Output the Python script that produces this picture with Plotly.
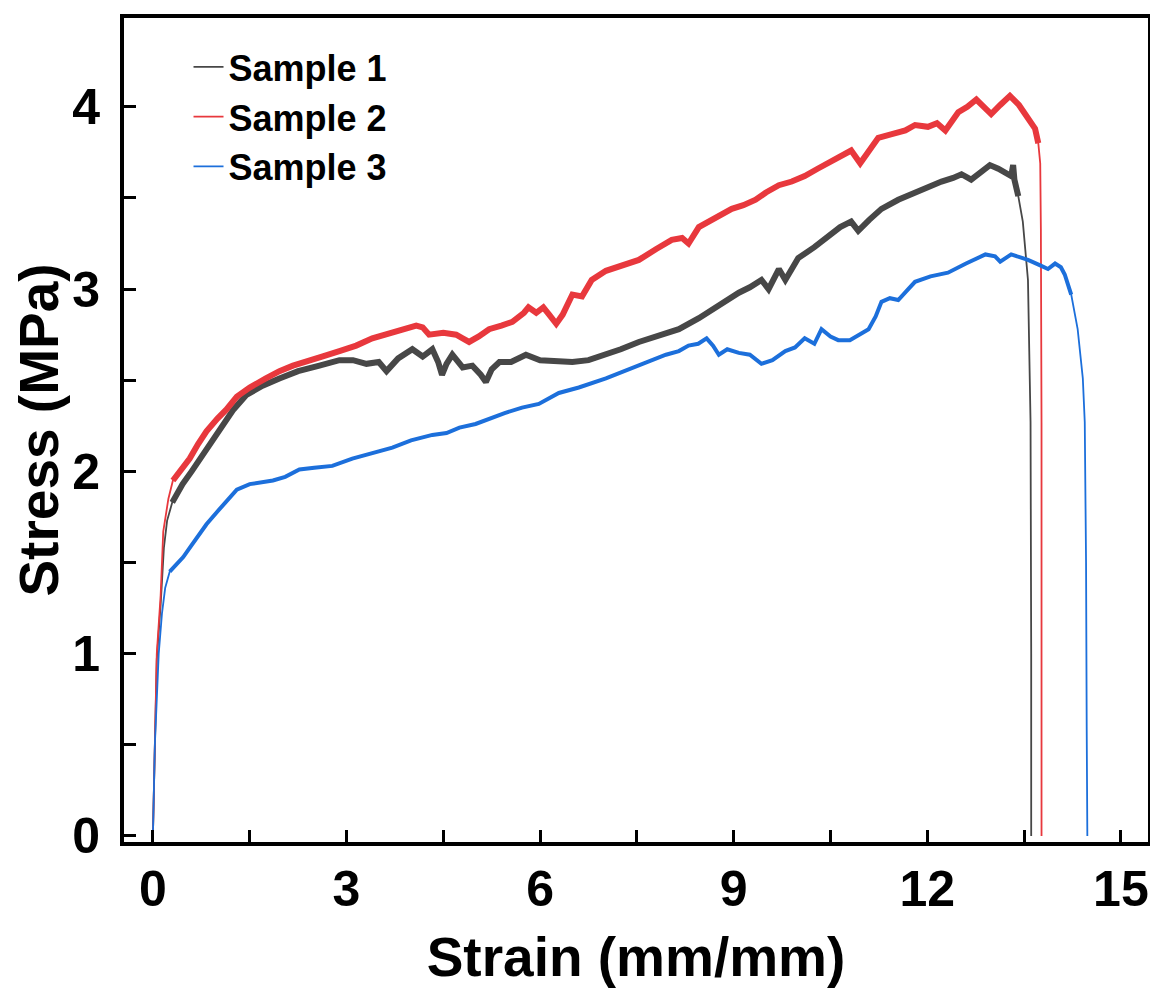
import numpy as np
import plotly.graph_objects as go

# Sample 1 (gray)
strain_1 = [0, 0.03, 0.06, 0.12, 0.17, 0.22, 0.30, 0.46, 0.6, 0.73, 0.88, 1.04, 1.25, 1.45,
            1.7, 1.96, 2.25, 2.58, 2.89, 3.1, 3.31, 3.5, 3.62, 3.8, 4.02, 4.18, 4.33, 4.42,
            4.48, 4.55, 4.64, 4.8, 4.95, 5.08, 5.16, 5.25, 5.37, 5.55, 5.78, 6.0, 6.29, 6.5,
            6.75, 7.02, 7.25, 7.53, 7.8, 8.15, 8.46, 8.75, 9.08, 9.25, 9.43, 9.54, 9.70, 9.80,
            10.0, 10.25, 10.47, 10.65, 10.82, 10.93, 11.1, 11.29, 11.55, 11.81, 12.02, 12.22,
            12.4, 12.53, 12.68, 12.85, 12.97, 13.1, 13.2, 13.3, 13.33, 13.35, 13.41, 13.48,
            13.56, 13.6, 13.61, 13.61]
stress_1 = [0, 0.5, 0.97, 1.27, 1.58, 1.73, 1.83, 1.93, 2.0, 2.07, 2.15, 2.23, 2.34, 2.42,
            2.47, 2.51, 2.55, 2.58, 2.61, 2.61, 2.59, 2.60, 2.55, 2.62, 2.67, 2.63, 2.67, 2.60,
            2.53, 2.59, 2.64, 2.57, 2.58, 2.53, 2.49, 2.56, 2.60, 2.60, 2.64, 2.61, 2.60, 2.60,
            2.61, 2.64, 2.67, 2.71, 2.74, 2.78, 2.84, 2.91, 2.98, 3.01, 3.05, 3.00, 3.11, 3.05,
            3.17, 3.23, 3.29, 3.34, 3.37, 3.32, 3.38, 3.44, 3.49, 3.53, 3.56, 3.59,
            3.61, 3.63, 3.60, 3.65, 3.68, 3.66, 3.64, 3.62, 3.68, 3.60, 3.51, 3.37,
            3.05, 2.27, 1.0, 0]

# Sample 2 (red)
strain_2 = [0, 0.03, 0.06, 0.12, 0.16, 0.24, 0.31, 0.43, 0.57, 0.7, 0.83, 1.0, 1.14, 1.3,
            1.5, 1.75, 1.96, 2.17, 2.38, 2.62, 2.89, 3.15, 3.4, 3.7, 3.9, 4.08, 4.18, 4.28,
            4.5, 4.70, 4.8, 4.9, 5.05, 5.21, 5.4, 5.57, 5.75, 5.82, 5.94, 6.05, 6.14, 6.25,
            6.35, 6.5, 6.65, 6.8, 7.02, 7.3, 7.53, 7.8, 8.04, 8.2, 8.30, 8.46, 8.7, 8.97,
            9.15, 9.34, 9.5, 9.70, 9.9, 10.1, 10.3, 10.47, 10.65, 10.82, 10.96, 11.1, 11.24,
            11.45, 11.66, 11.81, 12.01, 12.15, 12.28, 12.48, 12.62, 12.76, 12.88, 12.99,
            13.13, 13.28, 13.42, 13.56, 13.67, 13.72, 13.75, 13.76, 13.77, 13.77, 13.77]
stress_2 = [0, 0.5, 1.0, 1.32, 1.67, 1.85, 1.95, 2.01, 2.07, 2.15, 2.22, 2.29, 2.34, 2.41,
            2.46, 2.51, 2.55, 2.58, 2.60, 2.63, 2.66, 2.69, 2.73, 2.76, 2.78, 2.80, 2.79, 2.75,
            2.76, 2.75, 2.73, 2.71, 2.74, 2.78, 2.80, 2.82, 2.87, 2.90, 2.87, 2.90, 2.86, 2.81,
            2.86, 2.97, 2.96, 3.05, 3.10, 3.13, 3.16, 3.22, 3.27, 3.28, 3.25, 3.34, 3.39, 3.44,
            3.46, 3.49, 3.53, 3.57, 3.59, 3.62, 3.66, 3.69, 3.73, 3.76, 3.69, 3.76, 3.83,
            3.85, 3.87, 3.90, 3.89, 3.91, 3.87, 3.97, 4.00, 4.04, 4.00, 3.96,
            4.01, 4.06, 4.01, 3.94, 3.88, 3.80, 3.69, 3.33, 2.27, 1.0, 0]

# Sample 3 (blue)
strain_3 = [0, 0.03, 0.09, 0.14, 0.19, 0.26, 0.37, 0.47, 0.57, 0.7, 0.83, 1.0, 1.14, 1.3,
            1.5, 1.7, 1.86, 2.05, 2.27, 2.5, 2.78, 3.09, 3.4, 3.71, 4.0, 4.33, 4.55, 4.75,
            5.0, 5.21, 5.45, 5.72, 5.98, 6.29, 6.6, 7.02, 7.3, 7.53, 7.75, 7.95, 8.15, 8.30,
            8.45, 8.58, 8.68, 8.77, 8.9, 9.08, 9.25, 9.43, 9.6, 9.80, 9.95, 10.1, 10.25,
            10.36, 10.5, 10.62, 10.8, 11.09, 11.2, 11.29, 11.42, 11.55, 11.68, 11.81, 12.05,
            12.32, 12.6, 12.9, 13.05, 13.13, 13.3, 13.56, 13.75, 13.87, 13.98, 14.07, 14.13,
            14.23, 14.33, 14.41, 14.44, 14.46, 14.47, 14.48]
stress_3 = [0, 0.5, 1.0, 1.22, 1.36, 1.45, 1.49, 1.53, 1.58, 1.65, 1.71, 1.78, 1.84, 1.90,
            1.93, 1.94, 1.95, 1.97, 2.01, 2.02, 2.03, 2.07, 2.10, 2.13, 2.17, 2.20, 2.21, 2.24,
            2.26, 2.29, 2.32, 2.35, 2.37, 2.43, 2.46, 2.51, 2.55, 2.58, 2.61, 2.64, 2.66, 2.69,
            2.70, 2.73, 2.69, 2.64, 2.67, 2.65, 2.64, 2.59, 2.61, 2.66, 2.68, 2.73, 2.70,
            2.78, 2.74, 2.72, 2.72, 2.78, 2.85, 2.93, 2.95, 2.94, 2.99, 3.04, 3.07,
            3.09, 3.14, 3.19, 3.18, 3.15, 3.19, 3.16, 3.13, 3.11, 3.14, 3.12, 3.08,
            2.97, 2.78, 2.51, 2.27, 1.5, 0.6, 0]

samples = [
    ("Sample 1", strain_1, stress_1, "#474747", 13.45, 6),
    ("Sample 2", strain_2, stress_2, "#e8383d", 13.72, 6),
    ("Sample 3", strain_3, stress_3, "#1c6fdb", 14.25, 4),
]

fig = go.Figure()
for name, x, y, color, fail, band in samples:
    x = np.array(x)
    y = np.array(y)
    # thin full curve (also used for the legend)
    fig.add_trace(go.Scatter(x=x, y=y, mode="lines", name=name,
                             line=dict(color=color, width=1.8)))
    # thicker band for the noisy plastic region
    m = (x >= 0.25) & (x <= fail)
    fig.add_trace(go.Scatter(x=x[m], y=y[m], mode="lines", showlegend=False,
                             line=dict(color=color, width=band), hoverinfo="skip"))

bold = dict(family="Liberation Sans", color="black", weight="bold")

axis_common = dict(
    showline=True, linecolor="black", linewidth=4, mirror=True,
    ticks="inside", ticklen=12, tickwidth=3, tickcolor="black",
    showgrid=False, zeroline=False,
    tickfont=dict(size=50, **bold),
)

fig.update_xaxes(
    range=[-0.448, 15.42], dtick=3, tick0=0,
    minor=dict(dtick=1.5, ticks="inside", ticklen=12, tickwidth=3, tickcolor="black"),
    title=dict(text="Strain (mm/mm)", standoff=22, font=dict(size=55, **bold)),
    **axis_common,
)
fig.update_yaxes(
    range=[-0.033, 4.487], dtick=1, tick0=0, ticklabelstandoff=10,
    minor=dict(dtick=0.5, ticks="inside", ticklen=12, tickwidth=3, tickcolor="black"),
    title=dict(text="Stress (MPa)", standoff=10, font=dict(size=55, **bold)),
    **axis_common,
)

# page body adds an 8px offset, so the figure is 8px smaller on each leading side
fig.update_layout(
    width=1150, height=981,
    margin=dict(l=116, r=8, t=6, b=147),
    plot_bgcolor="white", paper_bgcolor="white",
    legend=dict(x=0.063, y=0.977, xanchor="left", yanchor="top",
                bgcolor="rgba(0,0,0,0)", tracegroupgap=0,
                font=dict(size=36, **bold)),
)

fig.write_html("out.html")
